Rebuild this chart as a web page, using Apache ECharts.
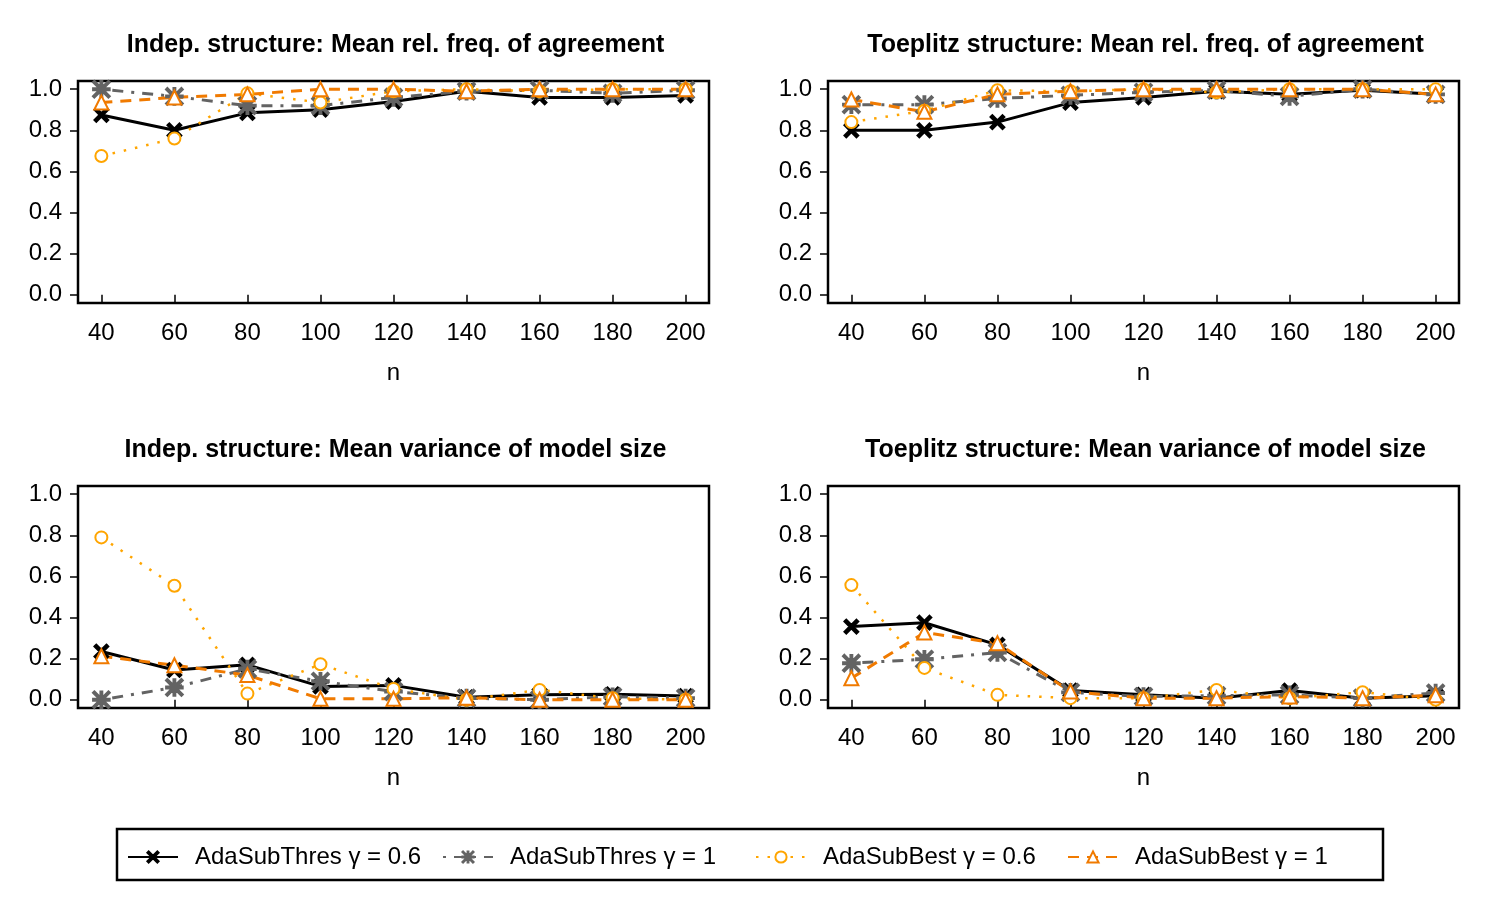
<!DOCTYPE html>
<html>
<head>
<meta charset="utf-8">
<script src="https://cdn.jsdelivr.net/npm/echarts@6/dist/echarts.min.js"></script>
<style>
  html, body { margin: 0; padding: 0; background: #fff; }
  #chart { width: 1500px; height: 900px; }
</style>
</head>
<body>
<div id="chart"></div>
<script>
// x values (sample size n)
const nValues = [40, 60, 80, 100, 120, 140, 160, 180, 200]
const yTicks = [0, 0.2, 0.4, 0.6, 0.8, 1.0]

const methodNames = ['AdaSubThres γ = 0.6', 'AdaSubThres γ = 1', 'AdaSubBest γ = 0.6', 'AdaSubBest γ = 1']

const panelTitles = [
  'Indep. structure: Mean rel. freq. of agreement',
  'Toeplitz structure: Mean rel. freq. of agreement',
  'Indep. structure: Mean variance of model size',
  'Toeplitz structure: Mean variance of model size'
]

// Indep. structure, agreement
const indepAgreeThres06 = [0.875, 0.80, 0.885, 0.90, 0.94, 0.99, 0.96, 0.96, 0.97]
const indepAgreeThres1 = [1.0, 0.965, 0.92, 0.92, 0.96, 0.99, 0.995, 0.98, 0.995]
const indepAgreeBest06 = [0.675, 0.76, 0.98, 0.935, 0.99, 1.0, 0.99, 1.0, 1.0]
const indepAgreeBest1 = [0.935, 0.96, 0.975, 1.0, 1.0, 0.99, 1.0, 1.0, 1.0]

// Toeplitz structure, agreement
const toepAgreeThres06 = [0.80, 0.80, 0.84, 0.935, 0.96, 0.99, 0.975, 0.995, 0.975]
const toepAgreeThres1 = [0.925, 0.925, 0.955, 0.97, 0.985, 0.995, 0.965, 1.0, 0.975]
const toepAgreeBest06 = [0.84, 0.895, 0.995, 0.99, 1.0, 0.985, 1.0, 1.0, 1.0]
const toepAgreeBest1 = [0.95, 0.89, 0.975, 0.99, 1.0, 1.0, 1.0, 1.0, 0.975]

// Indep. structure, variance of model size
const indepVarThres06 = [0.235, 0.145, 0.17, 0.065, 0.07, 0.012, 0.025, 0.027, 0.018]
const indepVarThres1 = [0.0, 0.06, 0.15, 0.09, 0.04, 0.008, 0.0, 0.015, 0.008]
const indepVarBest06 = [0.79, 0.555, 0.03, 0.173, 0.053, 0.0, 0.048, 0.008, 0.0]
const indepVarBest1 = [0.212, 0.168, 0.12, 0.005, 0.005, 0.01, 0.0, 0.0, 0.0]

// Toeplitz structure, variance of model size
const toepVarThres06 = [0.356, 0.375, 0.267, 0.045, 0.024, 0.008, 0.045, 0.008, 0.02]
const toepVarThres1 = [0.178, 0.197, 0.23, 0.036, 0.016, 0.02, 0.024, 0.008, 0.033]
const toepVarBest06 = [0.558, 0.155, 0.024, 0.008, 0.008, 0.048, 0.008, 0.037, 0.0]
const toepVarBest1 = [0.105, 0.327, 0.275, 0.04, 0.008, 0.008, 0.016, 0.008, 0.022]

const panelData = [
  [indepAgreeThres06, indepAgreeThres1, indepAgreeBest06, indepAgreeBest1],
  [toepAgreeThres06, toepAgreeThres1, toepAgreeBest06, toepAgreeBest1],
  [indepVarThres06, indepVarThres1, indepVarBest06, indepVarBest1],
  [toepVarThres06, toepVarThres1, toepVarBest06, toepVarBest1]
]

const FONT = '"Liberation Sans", Arial, Helvetica, sans-serif'

// marker shapes (R pch 4 / 8 / 1 / 2)
const crossPath = 'path://M0,11L11,0L100,89L89,100Z M89,0L100,11L11,100L0,89Z'
const starPath = 'path://M6,0L100,94L94,100L0,6Z M94,0L100,6L6,100L0,94Z M46,0L54,0L54,100L46,100Z M0,46L100,46L100,54L0,54Z'

const styles = [
  { color: '#000000', symbol: crossPath, size: 13, line: 'solid', width: 3 },
  { color: '#636363', symbol: starPath, size: 16, line: [3, 8, 11, 8], width: 3 },
  { color: '#FFA500', symbol: 'emptyCircle', size: 12, line: [2.5, 9], width: 2.5 },
  { color: '#F07A00', symbol: 'emptyTriangle', size: 14, line: [11, 8], width: 3 }
]

const boxes = [
  { left: 78, top: 81 },
  { left: 828, top: 81 },
  { left: 78, top: 486 },
  { left: 828, top: 486 }
]
const boxW = 631
const boxH = 222

const chart = echarts.init(document.getElementById('chart'))

const grid = boxes.map(b => ({
  left: b.left, top: b.top, width: boxW, height: boxH,
  show: true, borderColor: '#000', borderWidth: 2.5, backgroundColor: 'transparent',
  containLabel: false
}))

const xAxis = boxes.map((b, i) => ({
  type: 'value', gridIndex: i, min: 33.6, max: 206.4,
  name: 'n', nameLocation: 'middle', nameGap: 58,
  nameTextStyle: { fontFamily: FONT, fontSize: 24, color: '#000' },
  axisLine: { show: false },
  axisTick: { show: true, length: 9, customValues: nValues, lineStyle: { color: '#000', width: 1.5 } },
  axisLabel: { customValues: nValues, margin: 18, fontFamily: FONT, fontSize: 24, color: '#000' },
  splitLine: { show: false }
}))

const yAxis = boxes.map((b, i) => ({
  type: 'value', gridIndex: i, min: -0.04, max: 1.04,
  axisLine: { show: false },
  axisTick: { show: true, length: 8, customValues: yTicks, lineStyle: { color: '#000', width: 1.5 } },
  axisLabel: {
    customValues: yTicks, margin: 16, fontFamily: FONT, fontSize: 24, color: '#000',
    formatter: v => v.toFixed(1)
  },
  splitLine: { show: false }
}))

const series = []
panelData.forEach((panel, p) => {
  panel.forEach((vals, m) => {
    const s = styles[m]
    series.push({
      type: 'line',
      name: methodNames[m],
      xAxisIndex: p, yAxisIndex: p,
      data: vals.map((v, k) => [nValues[k], v]),
      symbol: s.symbol,
      symbolSize: s.size,
      showAllSymbol: true,
      animation: false,
      lineStyle: { color: s.color, width: s.width, type: s.line },
      itemStyle: { color: s.color, borderColor: s.color, borderWidth: 2.6 },
      emphasis: { disabled: true }
    })
  })
})

const title = panelTitles.map((t, i) => ({
  text: t,
  left: boxes[i].left + boxW / 2 - 3,
  top: 28,
  textAlign: 'center',
  textStyle: { fontFamily: FONT, fontSize: 25, fontWeight: 'bold', color: '#000' }
}))
title[2].top = 433
title[3].top = 433

const legendLefts = [122, 437, 750, 1062]
const legend = methodNames.map((name, i) => ({
  data: [name],
  left: legendLefts[i],
  top: 840,
  itemWidth: 50,
  itemHeight: 14,
  selectedMode: false,
  textStyle: { fontFamily: FONT, fontSize: 24, color: '#000', padding: [0, 0, 0, 12] }
}))

chart.setOption({
  backgroundColor: '#fff',
  animation: false,
  title,
  legend,
  grid,
  xAxis,
  yAxis,
  series,
  graphic: [{
    type: 'rect',
    shape: { x: 117, y: 829, width: 1266, height: 51 },
    style: { fill: 'none', stroke: '#000', lineWidth: 2.5 },
    silent: true
  }]
})

window.addEventListener('resize', () => chart.resize())
</script>
</body>
</html>
